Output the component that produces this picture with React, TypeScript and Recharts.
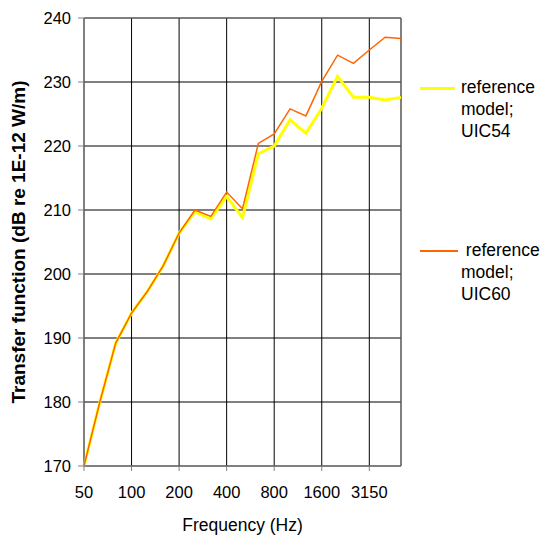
import React from "react";
import {
  LineChart,
  Line,
  XAxis,
  YAxis,
  CartesianGrid,
  ReferenceLine,
  Legend,
} from "recharts";

// one-third octave band centre frequencies
const frequencies = [
  "50", "63", "80", "100", "125", "160", "200", "250", "315", "400", "500",
  "630", "800", "1000", "1250", "1600", "2000", "2500", "3150", "4000", "5000",
];

// reference model; UIC54
const uic54 = [
  170, 180, 189.2, 193.9, 197.3, 201.3, 206.4, 209.7, 208.6, 212.1, 208.8,
  218.8, 220.0, 224.1, 222.0, 225.9, 230.9, 227.6, 227.6, 227.2, 227.6,
];

// reference model; UIC60
const uic60 = [
  170, 180, 189.2, 193.9, 197.3, 201.3, 206.4, 210.0, 209.0, 212.8, 210.2,
  220.4, 221.9, 225.8, 224.7, 230.1, 234.2, 232.9, 235.0, 237.0, 236.8,
];

const yTicks = [170, 180, 190, 200, 210, 220, 230, 240];

const data = frequencies.map((f, i) => ({ freq: f, uic54: uic54[i], uic60: uic60[i] }));

const FONT = "'Liberation Sans', Arial, sans-serif";

// Legend drawn as html beside the plot
const ChartLegend = () => (
  <div style={{ position: "absolute", left: 420, top: 76, fontFamily: FONT, fontSize: 17.5, color: "#000", lineHeight: "22px" }}>
    <div style={{ position: "relative", height: 163 }}>
      <div style={{ position: "absolute", left: 0, top: 11, width: 35, height: 3, background: "#ffff00" }} />
      <div style={{ position: "absolute", left: 41, top: 0 }}>
        reference<br />model;<br />UIC54
      </div>
    </div>
    <div style={{ position: "relative", height: 70 }}>
      <div style={{ position: "absolute", left: 0, top: 11, width: 38, height: 1.5, background: "#ff6600" }} />
      <div style={{ position: "absolute", left: 41, top: 0, whiteSpace: "pre" }}>
        {" reference"}<br />model;<br />UIC60
      </div>
    </div>
  </div>
);

export default function App() {
  return (
    <div style={{ position: "absolute", left: 0, top: 0, width: 542, height: 536, background: "#fff" }}>
      <LineChart
        width={542}
        height={536}
        data={data}
        margin={{ top: 18, right: 141, left: 34, bottom: 0 }}
      >
        <CartesianGrid stroke="#000" strokeWidth={1} />
        <XAxis
          dataKey="freq"
          interval={2}
          height={70}
          stroke="#808080"
          tickSize={5}
          tickMargin={15}
          tick={{ fill: "#000", fontSize: 16.5, fontFamily: FONT }}
          label={{ value: "Frequency (Hz)", position: "insideBottom", offset: 5, fill: "#000", fontSize: 17.5, fontFamily: FONT }}
        />
        <YAxis
          domain={[170, 240]}
          ticks={yTicks}
          width={50}
          stroke="#808080"
          tickSize={6}
          tickMargin={7}
          tick={{ fill: "#000", fontSize: 16.5, fontFamily: FONT }}
          label={{
            value: "Transfer function (dB re 1E-12 W/m)",
            angle: -90,
            position: "insideLeft",
            offset: -16,
            style: { textAnchor: "middle" },
            fill: "#000",
            fontSize: 19,
            fontWeight: "bold",
            fontFamily: FONT,
          }}
        />
        <ReferenceLine y={240} stroke="#808080" />
        <ReferenceLine x="5000" stroke="#808080" />
        <Line
          dataKey="uic54"
          name="reference model; UIC54"
          stroke="#ffff00"
          strokeWidth={3}
          dot={false}
          isAnimationActive={false}
        />
        <Line
          dataKey="uic60"
          name="reference model; UIC60"
          stroke="#ff6600"
          strokeWidth={1.5}
          dot={false}
          isAnimationActive={false}
        />
        <Legend content={() => null} />
      </LineChart>
      <ChartLegend />
    </div>
  );
}
